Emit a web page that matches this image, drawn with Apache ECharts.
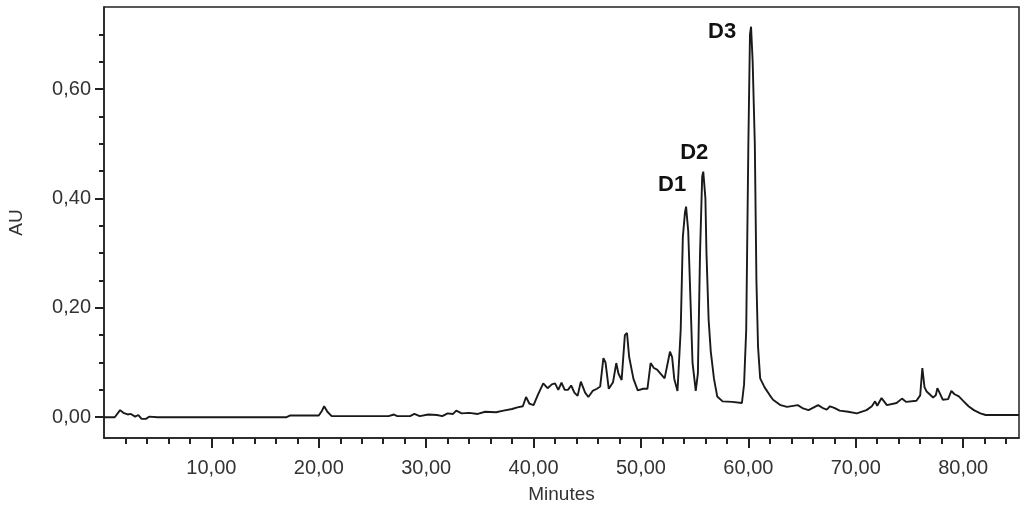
<!DOCTYPE html>
<html>
<head>
<meta charset="utf-8">
<script src="https://cdn.jsdelivr.net/npm/echarts@6/dist/echarts.min.js"></script>
<style>html,body{margin:0;padding:0;background:#fff}#c{width:1024px;height:507px}</style>
</head>
<body>
<div id="c"></div>
<script>
// Chromatogram data: retention time (minutes) and absorbance (AU)
const times = [0,1.0,1.5,1.8,2.2,2.5,2.9,3.2,3.5,3.9,4.2,5,17.0,17.3,20.0,20.3,20.5,20.8,21.2,26.5,27.0,27.3,28.5,28.9,29.4,30.2,31.0,31.5,32.0,32.5,32.8,33.3,34.0,34.8,35.5,36.5,37.2,38.0,38.5,39.0,39.3,39.6,40.0,40.4,40.9,41.3,41.7,42.0,42.3,42.6,42.9,43.2,43.5,43.8,44.1,44.4,44.8,45.1,45.5,45.9,46.2,46.5,46.7,47.0,47.4,47.7,47.9,48.2,48.5,48.7,48.9,49.3,49.7,50.2,50.6,50.9,51.2,51.5,51.9,52.2,52.5,52.7,52.9,53.1,53.4,53.7,53.9,54.1,54.2,54.4,54.6,54.8,55.1,55.3,55.5,55.7,55.8,56.0,56.1,56.3,56.5,56.8,57.1,57.6,58.5,59.4,59.6,59.8,60.0,60.15,60.25,60.4,60.6,60.75,60.9,61.1,61.5,62.0,62.3,63.0,63.6,64.6,65.1,65.6,66.5,67.0,67.3,67.6,68.0,68.5,69.3,70.1,71.0,71.5,71.8,72.0,72.4,72.9,73.8,74.3,74.7,75.65,76.0,76.2,76.4,76.6,77.2,77.45,77.6,77.8,78.1,78.6,78.9,79.2,79.6,80.0,80.5,81.0,81.6,82.1,85.2];
const au = [0,0,0.013,0.008,0.005,0.006,0.001,0.004,-0.003,-0.003,0.001,0,0,0.003,0.003,0.012,0.020,0.010,0.002,0.002,0.005,0.002,0.002,0.006,0.002,0.005,0.004,0.002,0.007,0.006,0.012,0.007,0.008,0.006,0.010,0.009,0.012,0.015,0.018,0.020,0.037,0.025,0.022,0.041,0.062,0.053,0.060,0.062,0.050,0.063,0.050,0.050,0.058,0.045,0.039,0.065,0.045,0.037,0.048,0.052,0.056,0.108,0.100,0.052,0.064,0.099,0.080,0.068,0.150,0.154,0.110,0.070,0.049,0.052,0.052,0.099,0.090,0.087,0.078,0.071,0.100,0.120,0.110,0.070,0.048,0.160,0.330,0.375,0.385,0.340,0.220,0.100,0.048,0.080,0.300,0.440,0.449,0.400,0.300,0.178,0.120,0.070,0.038,0.029,0.028,0.026,0.060,0.160,0.500,0.700,0.714,0.650,0.500,0.250,0.129,0.071,0.055,0.040,0.032,0.022,0.019,0.022,0.016,0.013,0.022,0.016,0.014,0.020,0.017,0.012,0.010,0.007,0.013,0.020,0.029,0.021,0.035,0.022,0.026,0.034,0.028,0.030,0.040,0.090,0.055,0.047,0.036,0.040,0.053,0.045,0.032,0.033,0.048,0.042,0.038,0.030,0.020,0.013,0.007,0.004,0.004];

// Peak labels
const peakNames = ['D1','D2','D3'];
const peakTimes = [54.2, 55.8, 60.25];
const peakValues = [0.385, 0.449, 0.714];

// Axis ticks
const xMajorTicks = [10,20,30,40,50,60,70,80];
const xMinorTicks = [2,4,6,8,12,14,16,18,22,24,26,28,32,34,36,38,42,44,46,48,52,54,56,58,62,64,66,68,72,74,76,78,82,84];
const yMajorTicks = [0,0.2,0.4,0.6];
const yMinorTicks = [0.05,0.1,0.15,0.25,0.3,0.35,0.45,0.5,0.55,0.65,0.7];

const X_MIN = 0, X_MAX = 85.2, Y_MIN = -0.038, Y_MAX = 0.75;
const fmt = v => v.toFixed(2).replace('.', ',');

const FONT = '"Liberation Sans", Arial, sans-serif';
const gridBox = {left:104, right:5, top:7, bottom:69, containLabel:false, outerBoundsMode:'none'};
const labelOffsets = [[-14,-22],[-9,-19],[-29,5]];

const chart = echarts.init(document.getElementById('c'), null, {renderer:'canvas'});
chart.setOption({
  animation:false,
  backgroundColor:'#fff',
  grid:[
    Object.assign({show:true, borderColor:'#222', borderWidth:1.5}, gridBox),
    Object.assign({show:false}, gridBox)
  ],
  xAxis:[{
    type:'value', gridIndex:0, min:X_MIN, max:X_MAX, position:'bottom',
    name:'Minutes', nameLocation:'middle', nameGap:47,
    nameTextStyle:{fontFamily:FONT, fontSize:19, color:'#333'},
    axisLine:{show:true, onZero:false, lineStyle:{color:'#222', width:1.5}},
    axisTick:{show:true, customValues:xMajorTicks, length:10, lineStyle:{color:'#222', width:2}},
    axisLabel:{show:true, customValues:xMajorTicks, margin:20, formatter:fmt, fontFamily:FONT, fontSize:20, color:'#333'},
    splitLine:{show:false}
  },{
    type:'value', gridIndex:1, min:X_MIN, max:X_MAX, position:'bottom',
    axisLine:{show:false, onZero:false},
    axisTick:{show:true, customValues:xMinorTicks, length:6, lineStyle:{color:'#222', width:2}},
    axisLabel:{show:false}, splitLine:{show:false}
  }],
  yAxis:[{
    type:'value', gridIndex:0, min:Y_MIN, max:Y_MAX, position:'left',
    name:'AU', nameLocation:'middle', nameGap:78, nameRotate:90,
    nameTextStyle:{fontFamily:FONT, fontSize:19, color:'#333'},
    axisLine:{show:true, onZero:false, lineStyle:{color:'#222', width:1.5}},
    axisTick:{show:true, customValues:yMajorTicks, length:9, lineStyle:{color:'#222', width:2}},
    axisLabel:{show:true, customValues:yMajorTicks, margin:13, formatter:fmt, fontFamily:FONT, fontSize:20, color:'#333'},
    splitLine:{show:false}
  },{
    type:'value', gridIndex:1, min:Y_MIN, max:Y_MAX, position:'left',
    axisLine:{show:false, onZero:false},
    axisTick:{show:true, customValues:yMinorTicks, length:5, lineStyle:{color:'#222', width:2}},
    axisLabel:{show:false}, splitLine:{show:false}
  }],
  series:[{
    type:'line', xAxisIndex:0, yAxisIndex:0,
    data: times.map((t,i)=>[t, au[i]]),
    showSymbol:false, symbol:'none',
    lineStyle:{color:'#1a1a1a', width:1.9},
    markPoint:{
      symbol:'circle', symbolSize:1, itemStyle:{color:'rgba(0,0,0,0)'},
      label:{show:true, position:'inside', formatter:p=>p.name, fontFamily:FONT, fontWeight:'bold', fontSize:22, color:'#111'},
      data: peakNames.map((n,i)=>({name:n, coord:[peakTimes[i], peakValues[i]], label:{offset:labelOffsets[i]}}))
    }
  }]
});
</script>
</body>
</html>
